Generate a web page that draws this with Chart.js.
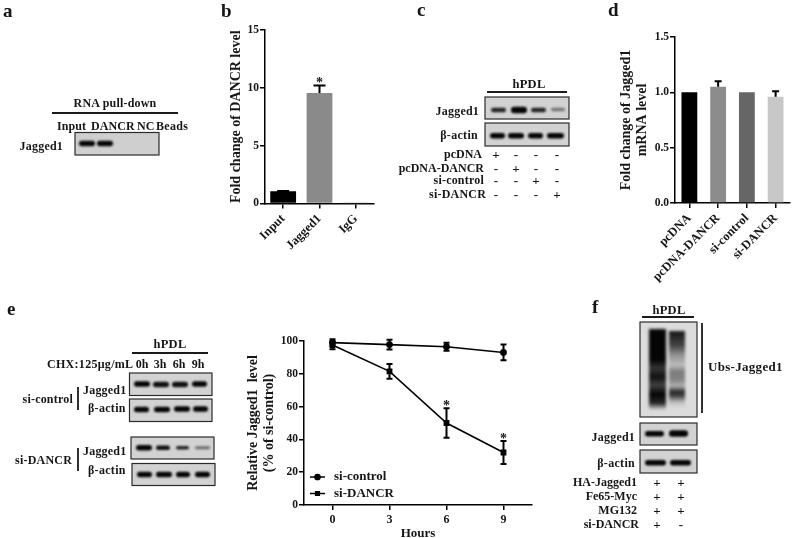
<!DOCTYPE html>
<html>
<head>
<meta charset="utf-8">
<title>DANCR Jagged1 figure</title>
<script src="https://cdn.jsdelivr.net/npm/chart.js@4"></script>
<style>
  html, body { margin: 0; padding: 0; background: #fff; }
  #page { position: relative; width: 800px; height: 538px; overflow: hidden; filter: blur(0.35px); }
  #page canvas { position: absolute; }
  .t {
    position: absolute; white-space: nowrap; color: #161616;
    font: bold 12px "Liberation Serif", serif; line-height: 1;
  }
</style>
</head>
<body>
<div id="page">
  <canvas id="blots" width="800" height="538" style="left:0;top:0"></canvas>
  <canvas id="chartB" width="165" height="270" style="left:222px;top:10px"></canvas>
  <canvas id="chartD" width="190" height="280" style="left:610px;top:20px"></canvas>
  <canvas id="chartE" width="310" height="218" style="left:230px;top:320px"></canvas>
</div>
<script>
// panel b
const labelsB = ["Input", "Jagged1", "IgG"];
const valuesB = [1.05, 9.55, 0.02];
const errorsB = [0.03, 0.65, 0];
const starsB = [false, true, false];
const colorsB = ["#000000", "#8a8a8a", "#8a8a8a"];
const ticksB = [0, 5, 10, 15];

// panel d
const labelsD = ["pcDNA", "pcDNA-DANCR", "si-control", "si-DANCR"];
const valuesD = [1.0, 1.05, 1.0, 0.96];
const errorsD = [0, 0.05, 0, 0.05];
const colorsD = ["#000000", "#8c8c8c", "#666666", "#c8c8c8"];
const ticksD = [0, 0.5, 1, 1.5];

// panel e
const hours = [0, 3, 6, 9];
const control = [99, 97.8, 96.5, 93];
const controlErr = [2, 3, 2.5, 4.8];
const dancr = [97.5, 81.5, 50, 32];
const dancrErr = [2.5, 4.5, 9, 7];
const starsE = [false, false, true, true];
const ticksE = [0, 20, 40, 60, 80, 100];

Chart.defaults.font.family = '"Liberation Serif", serif';
Chart.defaults.font.weight = "bold";
Chart.defaults.font.size = 12;
Chart.defaults.color = "#161616";

const errorBars = {
  id: "errorBars",
  afterDatasetsDraw(chart) {
    const ctx = chart.ctx;
    const yScale = chart.scales.y;
    chart.data.datasets.forEach((ds, d) => {
      const meta = chart.getDatasetMeta(d);
      ds.data.forEach((raw, i) => {
        const v = typeof raw === "number" ? raw : raw.y;
        const err = ds.err[i];
        if (!err) return;
        const x = meta.data[i].x;
        const top = yScale.getPixelForValue(v + err);
        const bottom = yScale.getPixelForValue(ds.both ? v - err : v);
        ctx.save();
        ctx.strokeStyle = "#000";
        ctx.lineWidth = 2;
        ctx.beginPath();
        ctx.moveTo(x, top);
        ctx.lineTo(x, bottom);
        ctx.moveTo(x - ds.cap, top);
        ctx.lineTo(x + ds.cap, top);
        if (ds.both) {
          ctx.moveTo(x - ds.cap, bottom);
          ctx.lineTo(x + ds.cap, bottom);
        }
        ctx.stroke();
        if (ds.stars && ds.stars[i]) {
          ctx.fillStyle = "#161616";
          ctx.font = 'bold 14px "Liberation Serif", serif';
          ctx.textAlign = "center";
          ctx.textBaseline = "middle";
          ctx.fillText("*", x, top - 2);
        }
        ctx.restore();
      });
    });
  },
};

const legendE = {
  id: "legendE",
  afterDatasetsDraw(chart) {
    const ctx = chart.ctx;
    chart.data.datasets.forEach((ds, d) => {
      const y = 157 + d * 16.5;
      ctx.save();
      ctx.strokeStyle = "#000";
      ctx.fillStyle = "#000";
      ctx.lineWidth = 1.5;
      ctx.beginPath();
      ctx.moveTo(80, y);
      ctx.lineTo(95, y);
      ctx.stroke();
      Chart.helpers.drawPoint(ctx, { pointStyle: ds.pointStyle, radius: 2.6, borderWidth: 1 }, 87.5, y);
      ctx.fillStyle = "#161616";
      ctx.font = 'bold 13px "Liberation Serif", serif';
      ctx.textBaseline = "middle";
      ctx.fillText(ds.label, 104, y);
      ctx.restore();
    });
  },
};

function axisY(min, max, ticks, title, titlePad, width, fmt) {
  return {
    min: min,
    max: max,
    afterFit(s) { s.width = width; },
    afterBuildTicks(s) { s.ticks = ticks.map((v) => ({ value: v })); },
    grid: { drawOnChartArea: false, color: "#000", lineWidth: 1.5, tickLength: 5 },
    border: { color: "#000", width: 1.5 },
    ticks: { padding: 1, font: { size: 11.5 }, callback: fmt || ((v) => v) },
    title: {
      display: true,
      text: title,
      font: { size: 14, weight: "bold", lineHeight: 1.18 },
      padding: { top: titlePad, bottom: 0 },
    },
  };
}

function barChart(id, labels, values, errors, colors, pad, yAxis, pct, cap, stars, height) {
  new Chart(document.getElementById(id), {
    type: "bar",
    data: {
      labels: labels,
      datasets: [{
        data: values,
        backgroundColor: colors,
        categoryPercentage: 1,
        barPercentage: pct,
        err: errors,
        cap: cap,
        stars: stars,
      }],
    },
    options: {
      responsive: false,
      animation: false,
      layout: { padding: pad },
      plugins: { legend: { display: false }, tooltip: { enabled: false } },
      scales: {
        x: {
          afterFit(s) { s.height = height; },
          grid: { offset: false, drawOnChartArea: false, color: "#000", lineWidth: 1.5, tickLength: 5 },
          border: { color: "#000", width: 1.5 },
          ticks: { minRotation: 45, maxRotation: 45, autoSkip: false, padding: 3, font: { size: 12.5 } },
        },
        y: yAxis,
      },
    },
    plugins: [errorBars],
  });
}

barChart("chartB", labelsB, valuesB, errorsB, colorsB,
  { left: 0, top: 20, right: 13, bottom: 0 },
  axisY(0, 15, ticksB, "Fold change of DANCR level", 6, 43),
  0.71, 6, starsB, 76.5);

barChart("chartD", labelsD, valuesD, errorsD, colorsD,
  { left: 0, top: 17, right: 10, bottom: 0 },
  axisY(0, 1.5, ticksD, ["Fold change of Jagged1", "mRNA level"], 8, 65, (v) => v.toFixed(1)),
  0.55, 3.5, null, 97);

new Chart(document.getElementById("chartE"), {
  type: "line",
  data: {
    datasets: [
      {
        label: "si-control",
        data: hours.map((h, i) => ({ x: h, y: control[i] })),
        borderColor: "#000", backgroundColor: "#000", borderWidth: 1.6,
        pointStyle: "circle", pointRadius: 2.6, tension: 0,
        err: controlErr, cap: 3, both: true,
      },
      {
        label: "si-DANCR",
        data: hours.map((h, i) => ({ x: h, y: dancr[i] })),
        borderColor: "#000", backgroundColor: "#000", borderWidth: 1.6,
        pointStyle: "rect", pointRadius: 3, tension: 0,
        err: dancrErr, cap: 3, both: true, stars: starsE,
      },
    ],
  },
  options: {
    responsive: false,
    animation: false,
    layout: { padding: { left: 0, top: 21, right: 8, bottom: 0 } },
    plugins: { legend: { display: false }, tooltip: { enabled: false } },
    scales: {
      x: {
        type: "linear",
        min: -1.5,
        max: 10.5,
        afterFit(s) { s.height = 33; },
        afterBuildTicks(s) { s.ticks = hours.map((v) => ({ value: v })); },
        grid: { drawOnChartArea: false, color: "#000", lineWidth: 1.5, tickLength: 5 },
        border: { color: "#000", width: 1.5 },
        ticks: { padding: 3 },
        title: {
          display: true, text: "Hours",
          font: { size: 13, weight: "bold" },
          padding: { top: 0, bottom: -3 },
        },
      },
      y: axisY(0, 100, ticksE, ["Relative Jagged1  level", "(% of si-control)"], 15, 74),
    },
  },
  plugins: [errorBars, legendE],
});

// everything below is the non-chart part of the figure: gel images and their labels
const page = document.getElementById("page");

function text(str, x, y, anchor, size, spacing) {
  const el = document.createElement("div");
  el.className = "t";
  el.textContent = str;
  if (size) el.style.fontSize = size + "px";
  if (spacing) el.style.letterSpacing = spacing + "px";
  if (anchor === "end") el.style.right = 800 - x + "px";
  else el.style.left = x + "px";
  el.style.top = y + "px";
  el.style.transform = anchor === "middle" ? "translate(-50%,-50%)" : "translateY(-50%)";
  page.appendChild(el);
}

[["a", 3, 10], ["b", 221, 10], ["c", 417, 9], ["d", 608, 9], ["e", 7, 308], ["f", 592, 306]]
  .forEach((p) => text(p[0], p[1], p[2], "start", 19));

text("RNA pull-down", 115, 103, "middle", 12, 0.2);
text("Input", 57, 126, "start", 12, 0.1);
text("DANCR", 91, 126, "start", 12, 0.1);
text("NC", 137, 126, "start");
text("Beads", 156, 126, "start", 12, 0.3);
text("Jagged1", 63, 146, "end", 12, 0.2);

text("hPDL", 529, 84, "middle", 12.5, 0.3);
text("Jagged1", 479, 111, "end", 12, 0.2);
text("β-actin", 478, 135, "end", 12, 0.3);
text("pcDNA", 482, 154, "end");
text("pcDNA-DANCR", 484, 168, "end");
text("si-control", 484, 180, "end", 12, 0.2);
text("si-DANCR", 486, 194, "end", 12, 0.2);

const rowYc = [154, 168, 180, 194];
const colXc = [496, 516, 536, 557];
const signsC = ["+---", "-+--", "--+-", "---+"];
signsC.forEach((row, r) => row.split("").forEach((s, c) => text(s, colXc[c], rowYc[r], "middle", 13)));

text("hPDL", 170, 344, "middle", 12.5, 0.3);
text("CHX:125μg/mL", 47, 364, "start", 12, 0.3);
[["0h", 142], ["3h", 160], ["6h", 179], ["9h", 198]].forEach((p) => text(p[0], p[1], 364, "middle", 12));
text("si-control", 73, 399, "end", 12, 0.2);
text("Jagged1", 83, 390, "start", 12, 0.2);
text("β-actin", 88, 408, "start", 12, 0.3);
text("si-DANCR", 72, 460, "end", 12, 0.2);
text("Jagged1", 83, 451, "start", 12, 0.2);
text("β-actin", 88, 470, "start", 12, 0.3);

text("hPDL", 669, 310, "middle", 12.5, 0.3);
text("Ubs-Jagged1", 708, 366, "start", 13, 0.3);
text("Jagged1", 635, 437, "end", 12, 0.2);
text("β-actin", 635, 463, "end", 12, 0.3);
text("HA-Jagged1", 637, 482, "end");
text("Fe65-Myc", 637, 496, "end");
text("MG132", 637, 510, "end");
text("si-DANCR", 639, 524, "end");

const rowYf = [482, 496, 510, 524];
const colXf = [657, 681];
const signsF = ["++", "++", "++", "+-"];
signsF.forEach((row, r) => row.split("").forEach((s, c) => text(s, colXf[c], rowYf[r], "middle", 13)));

const g = document.getElementById("blots").getContext("2d");

function rule(x1, y1, x2, y2, w) {
  g.strokeStyle = "#1a1a1a";
  g.lineWidth = w || 1.8;
  g.beginPath();
  g.moveTo(x1, y1);
  g.lineTo(x2, y2);
  g.stroke();
}

function band(x1, x2, y, h, alpha) {
  g.save();
  g.filter = "blur(0.8px)";
  g.fillStyle = "rgba(5,5,5," + alpha + ")";
  g.beginPath();
  g.roundRect(x1, y - h / 2, x2 - x1, h, h / 2);
  g.fill();
  g.restore();
}

function blot(x, y, w, h, shade, lanes) {
  g.fillStyle = shade || "#d6d6d6";
  g.fillRect(x, y, w, h);
  lanes.forEach((l) => band(l[0], l[1], l[2], l[3], l[4]));
  g.strokeStyle = "#2b2b2b";
  g.lineWidth = 1.2;
  g.strokeRect(x, y, w, h);
}

rule(52, 113, 178, 113);
blot(75, 132.5, 84, 22.5, "#cfcfcf", [[79, 95, 143.5, 5.5, 1], [97, 113, 143.5, 5.5, 1]]);

rule(487, 92, 567, 92);
blot(485, 97, 84, 22, "#d2d2d2", [[491, 506, 110, 4.5, 0.85], [511, 527, 110, 6.5, 1], [531, 546, 110, 4.5, 0.85], [551, 565, 109.5, 3.5, 0.45]]);
blot(485, 123, 84, 23, "#d2d2d2", [[490, 505, 135.7, 5.5, 1], [508, 524, 135.7, 5.5, 1], [528, 543, 135.7, 5.5, 1], [547, 564, 135.7, 5.5, 1]]);

rule(132, 353, 208, 353);
rule(78, 387, 78, 410);
rule(78, 448, 78, 471);
blot(129.5, 373, 82.5, 22.5, "#d2d2d2", [[134, 150, 384, 5.5, 1], [153, 169, 384.5, 5.5, 0.95], [172, 188, 384.5, 5.5, 0.95], [192, 207, 384, 5.5, 1]]);
blot(129.5, 399, 82.5, 22.5, "#d2d2d2", [[134, 149, 409.5, 5.5, 1], [154, 170, 409.5, 5.5, 1], [174, 190, 409, 5.5, 1], [193, 208, 409, 5.5, 1]]);
blot(131, 437, 83, 22, "#d2d2d2", [[136, 152, 447.7, 5.5, 1], [156, 170, 447.7, 4.5, 0.95], [176, 189, 447.7, 3.5, 0.85], [195, 210, 447.7, 3, 0.5]]);
blot(132, 463.5, 83, 22, "#d2d2d2", [[137, 152, 474.5, 5.5, 1], [156, 172, 474.5, 5.5, 1], [176, 190, 474.5, 5.5, 1], [195, 210, 474.5, 5.5, 1]]);

rule(642, 317, 694, 317);
rule(702, 323, 702, 413);

// big smeared ubiquitin blot: each lane is a vertical darkness profile
function smear(x, w, stops) {
  const top = stops[0][0];
  const bottom = stops[stops.length - 1][0];
  const grad = g.createLinearGradient(0, top, 0, bottom);
  stops.forEach((s) => grad.addColorStop((s[0] - top) / (bottom - top), "rgba(5,5,5," + s[1] + ")"));
  g.fillStyle = grad;
  g.fillRect(x, top, w, bottom - top);
}

g.save();
g.fillStyle = "#dcdcdc";
g.fillRect(640, 322, 57, 95);
g.beginPath();
g.rect(640, 322, 57, 95);
g.clip();
g.filter = "blur(1.5px)";
smear(649, 17, [[329, 1], [360, 1], [368, 0.78], [377, 0.95], [385, 0.72], [394, 1], [403, 0.85], [410, 0]]);
smear(669, 16, [[331, 0.92], [345, 0.72], [355, 0.35], [365, 0.15], [372, 0.45], [380, 0.4], [386, 0.2], [392, 0.85], [396, 0.7], [402, 0.15], [408, 0]]);
g.restore();
g.strokeStyle = "#2b2b2b";
g.lineWidth = 1.2;
g.strokeRect(640, 322, 57, 95);

blot(640, 423, 57, 22, "#d2d2d2", [[645, 664, 433.7, 5.5, 1], [669, 688, 433.5, 6.5, 1]]);
blot(640, 450, 57, 23, "#d2d2d2", [[645, 666, 462.7, 5.5, 1], [670, 691, 462.7, 5.5, 1]]);
</script>
</body>
</html>
